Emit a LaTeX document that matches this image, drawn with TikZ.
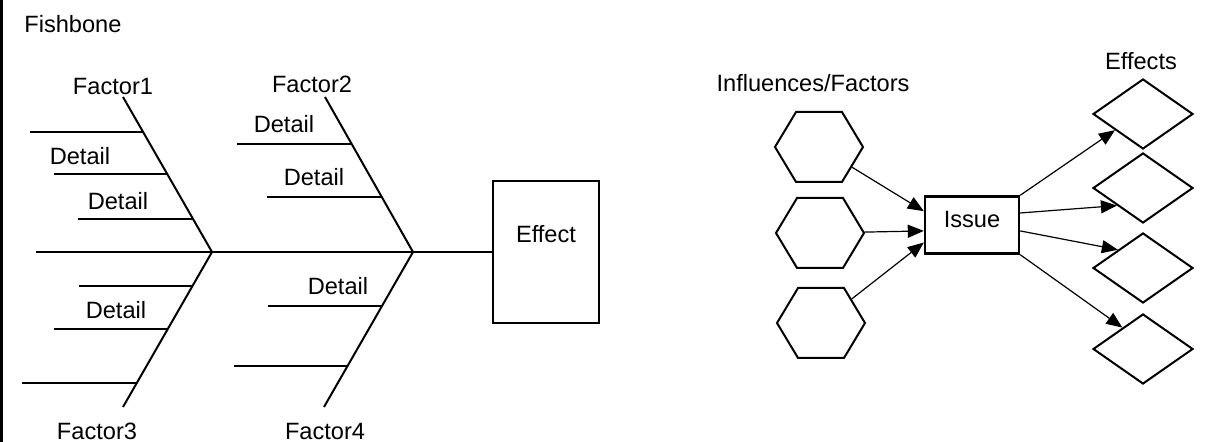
\documentclass[tikz,border=0pt]{standalone}
\usepackage{fontspec}
\setmainfont{Liberation Sans}
\usetikzlibrary{positioning}
\usetikzlibrary{shapes.geometric}
\usetikzlibrary{shapes.symbols}
\usetikzlibrary{arrows.meta}

\tikzset{
	bone/.style = {black, line width = 1pt},
	lbl/.style = {anchor = base, inner sep = 0pt, font = \fontsize{11.8pt}{14pt}\selectfont},
	effectrect/.style = {draw, rectangle, minimum width = 53pt, minimum height = 71pt, line width = 1.2pt},
	hexa/.style = {draw, signal, signal to = east and west, signal pointer angle = 118, minimum width = 44pt, minimum height = 35pt, inner sep = 0pt, line width = 1pt},
	issuebox/.style = {draw, rectangle, minimum width = 47pt, minimum height = 28.5pt, line width = 1.2pt},
	outcome/.style = {draw, diamond, minimum width = 50pt, minimum height = 35pt, inner sep = 0pt, line width = 1pt},
	link/.style = {black, line width = 0.6pt, -{Triangle[length = 8pt, width = 6.5pt]}}
}

\begin{document}
\begin{tikzpicture}[x = 0.5pt, y = -0.5pt]
	\useasboundingbox (0, 0) rectangle (1215, 442);
	\draw [black, line width = 1.5pt] (1.5, 0) -- (1.5, 442);
	\node [lbl, anchor = base west] (title) at (24, 33) {Fishbone};

	\coordinate (tail) at (36, 252);
	\coordinate (head1) at (212, 252);
	\coordinate (head2) at (413, 252);
	\coordinate (f1) at (123, 97);
	\coordinate (f2) at (325, 97);
	\coordinate (f3) at (123, 407);
	\coordinate (f4) at (324, 407);
	\node [effectrect] (effect) at (546, 252) {};
	\node [lbl] (effectlbl) at (546, 243) {Effect};

	\draw [bone] (tail) -- (head1) -- (head2) -- (effect.west);
	\draw [bone] (f1) -- (head1) -- (f3);
	\draw [bone] (f2) -- (head2) -- (f4);

	\draw [bone] (30, 132) -- (143, 132);
	\draw [bone] (54, 174) -- (167, 174);
	\draw [bone] (78, 219) -- (193, 219);
	\draw [bone] (79, 286) -- (192, 286);
	\draw [bone] (54, 329) -- (168, 329);
	\draw [bone] (22, 383) -- (137, 383);
	\draw [bone] (237, 144) -- (351, 144);
	\draw [bone] (267, 197) -- (382, 197);
	\draw [bone] (268, 306) -- (382, 306);
	\draw [bone] (234, 366) -- (348, 366);

	\node [lbl] (factor1) at (113, 95) {Factor1};
	\node [lbl] (factor2) at (312, 93) {Factor2};
	\node [lbl] (factor3) at (97, 440) {Factor3};
	\node [lbl] (factor4) at (325, 440) {Factor4};
	\node [lbl] (detail1) at (80, 165) {Detail};
	\node [lbl] (detail2) at (118, 210) {Detail};
	\node [lbl] (detail3) at (116, 319) {Detail};
	\node [lbl] (detail4) at (284, 133) {Detail};
	\node [lbl] (detail5) at (314, 186) {Detail};
	\node [lbl] (detail6) at (338, 295) {Detail};

	\node [lbl] (influences) at (813, 92) {Influences/Factors};
	\node [lbl] (effects) at (1141, 70) {Effects};
	\node [hexa] (h1) at (819, 147) {};
	\node [hexa] (h2) at (820, 233) {};
	\node [hexa] (h3) at (821, 323) {};
	\node [issuebox] (issue) at (972, 225) {};
	\node [lbl] (issuelbl) at (972, 228) {Issue};
	\node [outcome] (d1) at (1143, 114) {};
	\node [outcome] (d2) at (1143, 188) {};
	\node [outcome] (d3) at (1143, 268) {};
	\node [outcome] (d4) at (1143, 349) {};

	\draw [link] (h1) -- (issue.164);
	\draw [link] (h2) -- (issue.187);
	\draw [link] (h3) -- (issue.200);
	\draw [link] (issue.north east) -- (d1.210);
	\draw [link] (issue.14) -- (d2.214);
	\draw [link] (issue.353) -- (d3.144);
	\draw [link] (issue.south east) -- (d4.134);
\end{tikzpicture}
\end{document}
